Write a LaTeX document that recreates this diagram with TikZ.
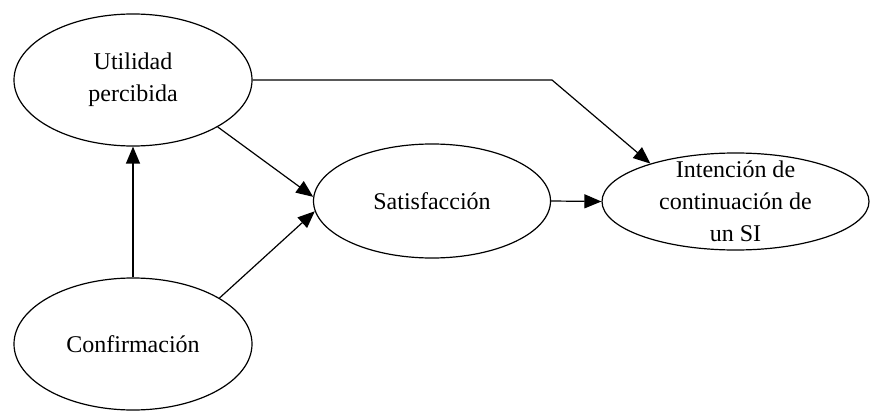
\documentclass[tikz,border=0pt]{standalone}
\usepackage{fontspec}
\setmainfont{Liberation Serif}
\usetikzlibrary{arrows.meta, shapes.geometric}

\begin{document}
\begin{tikzpicture}
  [>={Triangle[length=8.5pt, width=7pt]},
    x=0.5pt, y=-0.5pt,
    every node/.style={font=\fontsize{12}{16}\selectfont}]

  \tikzset{
    constructo/.style={
      ellipse,
      draw=black, line width=0.6pt,
      align=center, inner sep=0pt,
    },
    influye/.style={->, draw, line width=0.6pt},
  }

  \useasboundingbox (0,0) rectangle (870,411);

  \node[constructo, minimum width=119pt, minimum height=66pt]
    (util) at (133,80) {Utilidad\\percibida};
  \node[constructo, minimum width=119pt, minimum height=66pt]
    (conf) at (133,344) {Confirmación};
  \node[constructo, minimum width=118.5pt, minimum height=57pt]
    (satis) at (432,201) {Satisfacción};
  % texto como etiqueta: la elipse es mas baja que sus tres lineas
  \node[constructo, minimum width=133.5pt, minimum height=48.5pt,
    label={[align=center]center:Intención de\\continuación de\\un SI}]
    (inten) at (735.5,201.5) {};

  \coordinate (codo) at (552,80);

  \draw[influye] (conf.north) -- (util.south);
  \draw[influye] (util.-29) -- (satis.178.6);
  \draw[influye] (conf.28.4) -- (satis.185.7);
  \draw[influye] (satis.east) -- (inten.west);
  \draw[influye] (util.east) -- (codo) -- (inten.156);
\end{tikzpicture}
\end{document}
